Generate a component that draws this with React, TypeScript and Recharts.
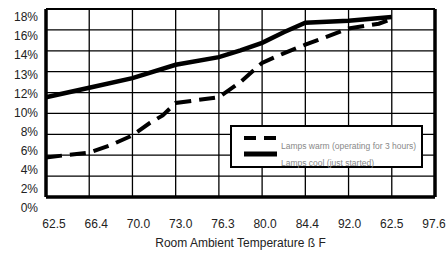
import React from 'react';
import {
  LineChart,
  Line,
  XAxis,
  YAxis,
  ReferenceLine,
  Legend,
} from 'recharts';

// axis tick labels (the scanned chart uses uneven percent steps)
const pctTicks = [0, 2, 4, 6, 8, 10, 12, 13, 14, 16, 18];
const tempLabels = ['62.5', '66.4', '70.0', '73.0', '76.3', '80.0', '84.4', '92.0', '62.5', '97.6'];

// lamps cool (just started)
const coolX = [0, 1, 2, 3, 4, 4.5, 5, 5.5, 6, 7, 8];
const coolPct = [11.6, 12.3, 12.8, 13.5, 13.9, 14.5, 15.3, 16.4, 17.4, 17.6, 18.0];

// lamps warm (operating for 3 hours)
const warmX = [0, 1, 1.5, 2, 2.4, 2.7, 3, 3.5, 4, 4.5, 5, 5.5, 6, 7, 7.7, 8];
const warmPct = [5.3, 5.8, 6.6, 7.6, 8.9, 9.7, 11.0, 11.3, 11.6, 12.6, 13.6, 14.2, 15.1, 16.8, 17.3, 17.8];

// the printed grid box does not line up with the labels: 9 rows between these
const GRID_BOTTOM = 0.576;
const GRID_TOP = 10.42;
const ROWS = 9;
const COLS = 9;
const gridRows = Array.from({ length: ROWS + 1 }, (_, k) => GRID_BOTTOM + (k * (GRID_TOP - GRID_BOTTOM)) / ROWS);
const gridCols = Array.from({ length: COLS + 1 }, (_, k) => k);

// percent -> position on the evenly spaced label axis
const toAxis = (p: number) => {
  for (let i = 0; i < pctTicks.length - 1; i++) {
    const a = pctTicks[i];
    const b = pctTicks[i + 1];
    if (p <= b) return i + (p - a) / (b - a);
  }
  return pctTicks.length - 1;
};

const coolData = coolX.map((x, i) => ({ x, v: toAxis(coolPct[i]) }));
const warmData = warmX.map((x, i) => ({ x, v: toAxis(warmPct[i]) }));

const font = 'Arial, "Liberation Sans", sans-serif';

// x labels drift a little from the grid columns in the scan
const XTick = (props: any) => {
  const { x, y, payload } = props;
  const i = payload.value as number;
  return (
    <text x={x + 8 - i * 1.0} y={y} dy="0.71em" textAnchor="middle" fontSize={12} fill="#222" fontFamily={font}>
      {tempLabels[i]}
    </text>
  );
};

const LegendBox = () => (
  <div
    style={{
      position: 'relative',
      width: 193,
      height: 43,
      boxSizing: 'border-box',
      border: '2px solid #000',
      background: '#fff',
      fontFamily: font,
      fontSize: 8.5,
      color: '#888',
    }}
  >
    <svg width={40} height={40} style={{ position: 'absolute', left: 10, top: 0 }}>
      <line x1={2} y1={11} x2={35} y2={11} stroke="#000" strokeWidth={4} strokeDasharray="12 8" />
      <line x1={2} y1={27} x2={35} y2={27} stroke="#000" strokeWidth={5} />
    </svg>
    <div style={{ position: 'absolute', left: 49, top: 14, whiteSpace: 'nowrap' }}>
      Lamps warm (operating for 3 hours)
    </div>
    <div style={{ position: 'absolute', left: 49, top: 30.5, whiteSpace: 'nowrap' }}>
      Lamps cool (just started)
    </div>
  </div>
);

export default function App() {
  return (
    <div style={{ position: 'absolute', left: 0, top: 0, width: 447, height: 254, background: '#fff' }}>
      <LineChart width={447} height={254} margin={{ top: 9, right: 12, left: 6, bottom: 16 }}>
        <XAxis
          type="number"
          dataKey="x"
          domain={[0, COLS]}
          ticks={gridCols}
          axisLine={false}
          tickLine={false}
          tickMargin={5}
          interval={0}
          height={30}
          tick={<XTick />}
          label={{
            value: 'Room Ambient Temperature ß F',
            position: 'bottom',
            offset: 0,
            style: { fontSize: 12, fill: '#222', fontFamily: font },
          }}
        />
        <YAxis
          type="number"
          domain={[0, GRID_TOP]}
          ticks={pctTicks.map((_, i) => i)}
          tickFormatter={(i: number) => `${pctTicks[i]}%`}
          axisLine={false}
          tickLine={false}
          width={40}
          interval={0}
          tick={{ fontSize: 12, fill: '#222', fontFamily: font }}
        />

        {/* grid */}
        {gridRows.map((g, k) => (
          <ReferenceLine key={`h${k}`} y={g} stroke="#000" strokeWidth={1.3} />
        ))}
        {gridCols.map((c) => (
          <ReferenceLine
            key={`v${c}`}
            segment={[{ x: c, y: GRID_BOTTOM }, { x: c, y: GRID_TOP }]}
            stroke="#000"
            strokeWidth={1.3}
          />
        ))}

        <Line
          data={warmData}
          dataKey="v"
          stroke="#000"
          strokeWidth={4}
          strokeDasharray="16 8"
          dot={false}
          isAnimationActive={false}
        />
        <Line
          data={coolData}
          dataKey="v"
          stroke="#000"
          strokeWidth={4.5}
          dot={false}
          isAnimationActive={false}
        />

        {/* box border */}
        <ReferenceLine segment={[{ x: 0, y: GRID_BOTTOM }, { x: 0, y: GRID_TOP }]} stroke="#000" strokeWidth={3.5} />
        <ReferenceLine segment={[{ x: COLS, y: GRID_BOTTOM }, { x: COLS, y: GRID_TOP }]} stroke="#000" strokeWidth={3.5} />
        <ReferenceLine segment={[{ x: 0, y: GRID_BOTTOM }, { x: COLS, y: GRID_BOTTOM }]} stroke="#000" strokeWidth={3.5} />
        <ReferenceLine segment={[{ x: 0, y: GRID_TOP }, { x: COLS, y: GRID_TOP }]} stroke="#000" strokeWidth={2} />

        <Legend
          verticalAlign="middle"
          align="center"
          layout="horizontal"
          content={() => <LegendBox />}
          wrapperStyle={{ left: 230, top: 125, width: 193, height: 43 }}
        />
      </LineChart>
    </div>
  );
}
